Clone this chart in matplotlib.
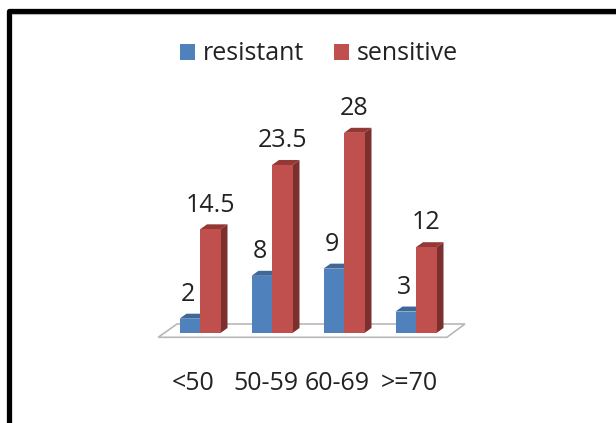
import matplotlib
matplotlib.use('Agg')
import matplotlib.pyplot as plt
from matplotlib.lines import Line2D
from matplotlib.patches import Patch, Polygon

################# DATA ##################

age_groups = ['<50', '50-59', '60-69', '>=70']
resistant = [2, 8, 9, 3]
sensitive = [14.5, 23.5, 28, 12]

################# STYLE ##################

blue = '#4f81bd'
blue_top = '#3f6797'
blue_side = '#385d8a'
red = '#c0504d'
red_top = '#953735'
red_side = '#7b302e'

W, H = 616, 423
PX_X = 72.0    # pixels per category
PX_Y = 7.15    # pixels per value unit
X0, Y0 = 200.0, 333.0   # pixel position of x=0, y=0

bar_w = 20.5 / PX_X
dx = 7 / PX_X   # depth of the fake 3d
dy = 5 / PX_Y
font_size = 18

plt.rcParams['font.family'] = ['Open Sans', 'DejaVu Sans']

fig = plt.figure(figsize=(W / 100, H / 100), dpi=100)
ax = fig.add_axes([0, 0, 1, 1])
ax.set_xlim(-X0 / PX_X, (W - X0) / PX_X)
ax.set_ylim(-(H - Y0) / PX_Y, Y0 / PX_Y)
ax.axis('off')


def bar_3d(x, value, front, top, side):
    ax.bar(x, value, width=bar_w, color=front, zorder=3)
    left, right = x - bar_w / 2, x + bar_w / 2
    ax.add_patch(Polygon([(left, value), (right, value), (right + dx, value + dy),
                          (left + dx, value + dy)], color=top, lw=0, zorder=2))
    ax.add_patch(Polygon([(right, 0), (right + dx, dy), (right + dx, value + dy),
                          (right, value)], color=side, lw=0, zorder=2))


################# FLOOR ##################

n = len(age_groups)
floor_front = -0.6
floor_back = 9 / PX_Y
floor = [(-0.58, floor_front), (3.43, floor_front), (3.68, floor_back), (-0.32, floor_back)]
ax.add_patch(Polygon(floor, facecolor='white', edgecolor='#b8b8b8', lw=1.2, zorder=1))

################# BARS ##################

for i in range(n):
    bar_3d(i - bar_w / 2, resistant[i], blue, blue_top, blue_side)
    bar_3d(i + bar_w / 2, sensitive[i], red, red_top, red_side)
    ax.annotate(str(resistant[i]), (i - bar_w / 2, resistant[i]), xytext=(-1, 17.5),
                textcoords='offset points', ha='center', va='center',
                fontsize=font_size, color='#222222')
    ax.annotate(str(sensitive[i]), (i + bar_w / 2, sensitive[i]), xytext=(0, 17.5),
                textcoords='offset points', ha='center', va='center',
                fontsize=font_size, color='#222222')
    ax.text(i - 0.09, -50 / PX_Y, age_groups[i], ha='center', va='center',
            fontsize=font_size, color='#222222')

################# LEGEND ##################

handles = [Patch(facecolor=blue, label='resistant'), Patch(facecolor=red, label='sensitive')]
ax.legend(handles=handles, ncol=2, frameon=False, loc='center',
          bbox_to_anchor=(319 / W, 1 - 54 / H), fontsize=font_size, handlelength=0.6,
          handleheight=0.6, handletextpad=0.32, columnspacing=1.16, labelcolor='#222222')

################# FRAME ##################

fig.add_artist(Line2D([9 / W, 9 / W, 1], [0, 1 - 11.5 / H, 1 - 11.5 / H],
                      color='black', lw=3.8, solid_joinstyle='round'))
fig.add_artist(Line2D([12 / W, 1], [1 - 14.5 / H, 1 - 14.5 / H], color='#b5b5b5', lw=0.8))

fig.savefig('out.png', dpi=100)
